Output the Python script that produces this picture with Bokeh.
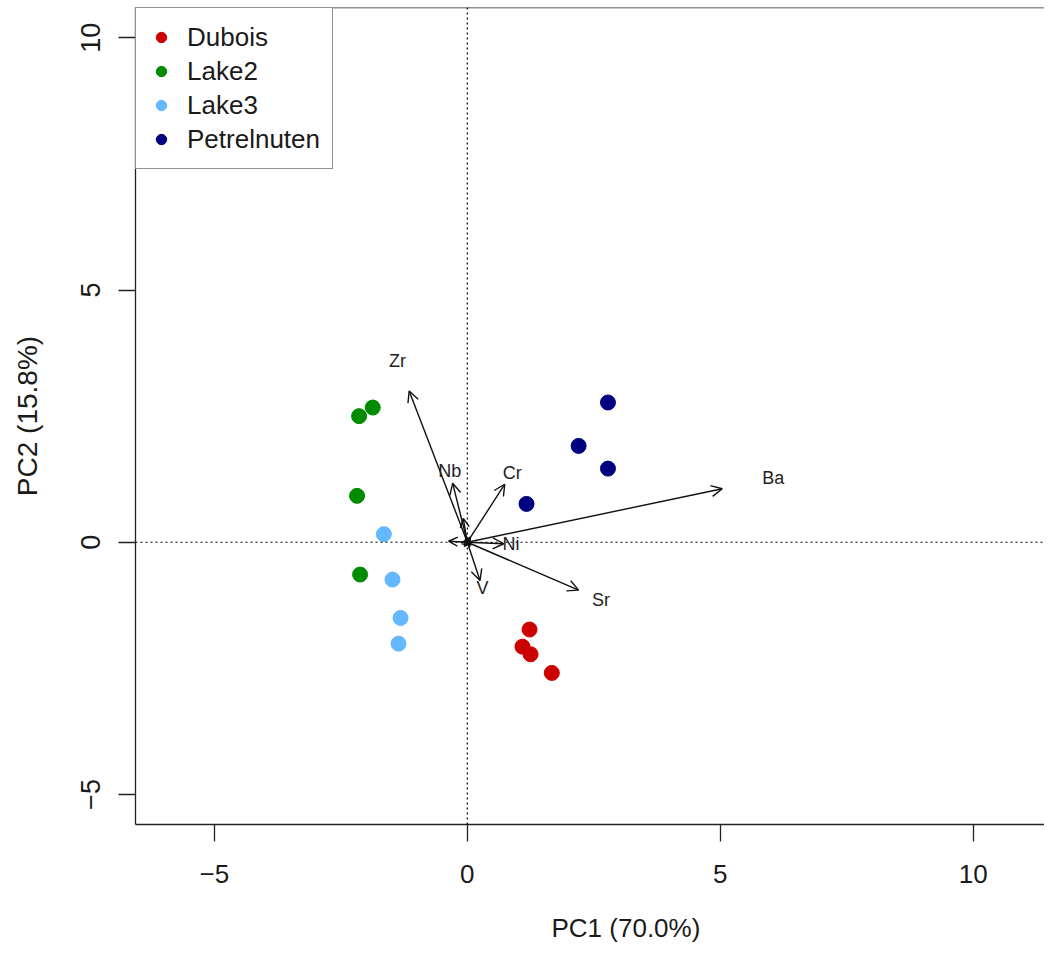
from bokeh.plotting import figure
from bokeh.models import (Span, Arrow, OpenHead, ColumnDataSource, FixedTicker,
                          Title, LabelSet)
from bokeh.embed import file_html
from bokeh.resources import INLINE
from bokeh.core.properties import value

# ---------------- data ----------------
groups = ["Dubois", "Lake2", "Lake3", "Petrelnuten"]
group_colors = ["#CD0000", "#008B00", "#63B8FF", "#000080"]

dubois_pc1 = [1.23, 1.09, 1.25, 1.67]
dubois_pc2 = [-1.73, -2.07, -2.22, -2.59]
lake2_pc1 = [-1.87, -2.14, -2.18, -2.12]
lake2_pc2 = [2.67, 2.50, 0.92, -0.64]
lake3_pc1 = [-1.65, -1.48, -1.32, -1.36]
lake3_pc2 = [0.16, -0.74, -1.50, -2.01]
petrel_pc1 = [2.78, 2.20, 2.78, 1.17]
petrel_pc2 = [2.77, 1.91, 1.46, 0.76]

variables = ["Zr", "Nb", "Cr", "Ba", "Ni", "Sr", "V"]
load_pc1 = [-1.15, -0.29, 0.74, 5.04, 0.72, 2.20, 0.25]
load_pc2 = [3.00, 1.17, 1.15, 1.06, -0.03, -0.95, -0.76]
# very short loading vectors clustered at the origin
minor_pc1 = [-0.37, -0.08, 0.06, -0.06, 0.08]
minor_pc2 = [0.02, 0.47, 0.10, -0.08, -0.05]

label_scale = 1.2

x_ticks = [-5, 0, 5, 10]
y_ticks = [-5, 0, 5, 10]
x_title = "PC1 (70.0%)"
y_title = "PC2 (15.8%)"

FONT = "Liberation Sans"
X_END = 11.41
Y_END = 10.60

# ---------------- figure ----------------
p = figure(frame_width=909, frame_height=817,
           x_range=(-6.56, X_END), y_range=(-5.595, Y_END),
           min_border_left=135, min_border_top=7, min_border_bottom=131,
           min_border_right=0,
           output_backend="svg", toolbar_location=None,
           background_fill_color="white", border_fill_color="white")
p.grid.visible = False
p.outline_line_color = None

for ax, ticks in ((p.xaxis, x_ticks), (p.yaxis, y_ticks)):
    ax.ticker = FixedTicker(ticks=ticks)
    ax.minor_tick_line_color = None
    ax.major_tick_in = 0
    ax.major_tick_out = 17
    ax.major_tick_line_width = 1.3
    ax.major_tick_line_color = "#222222"
    ax.axis_line_width = 1.3
    ax.axis_line_color = "#222222"
    ax.major_label_text_font = FONT
    ax.major_label_text_color = "#1a1a1a"

p.xaxis.major_label_text_font_size = "26px"
p.xaxis.major_label_standoff = 23
p.yaxis.major_label_text_font_size = "27px"
p.yaxis.major_label_orientation = "vertical"
p.yaxis.major_label_standoff = 18
p.yaxis.axis_label = y_title
p.yaxis.axis_label_text_font = FONT
p.yaxis.axis_label_text_font_size = "28px"
p.yaxis.axis_label_text_font_style = "normal"
p.yaxis.axis_label_text_color = "#1a1a1a"
p.yaxis.axis_label_standoff = 36

# top frame line
p.add_layout(Span(location=Y_END, dimension="width", line_color="#222222",
                  line_width=1.3))

# x axis title (R centres it on a plot region wider than the crop)
p.add_layout(Title(text=x_title, align="left", offset=416, standoff=50,
                   text_font=FONT, text_font_size="26px",
                   text_font_style="normal", text_color="#1a1a1a"), "below")

# dotted reference lines
p.add_layout(Span(location=0, dimension="height", line_color="black",
                  line_dash="2 3", line_width=1.2))
p.add_layout(Span(location=0, dimension="width", line_color="black",
                  line_dash="2 3", line_width=1.2))

# scores
series = [(dubois_pc1, dubois_pc2), (lake2_pc1, lake2_pc2),
          (lake3_pc1, lake3_pc2), (petrel_pc1, petrel_pc2)]
for (xs, ys), g, c in zip(series, groups, group_colors):
    p.scatter(xs, ys, size=15, fill_color=c, line_color=c, legend_label=g)

# loading arrows
arr_src = ColumnDataSource(dict(x0=[0] * len(variables), y0=[0] * len(variables),
                                x1=load_pc1, y1=load_pc2))
p.add_layout(Arrow(end=OpenHead(size=11, line_width=1.4, line_color="#111111"),
                   source=arr_src, x_start="x0", y_start="y0",
                   x_end="x1", y_end="y1", line_width=1.4, line_color="#111111"))
minor_src = ColumnDataSource(dict(x0=[0] * len(minor_pc1), y0=[0] * len(minor_pc1),
                                  x1=minor_pc1, y1=minor_pc2))
p.add_layout(Arrow(end=OpenHead(size=9, line_width=1.4, line_color="#111111"),
                   source=minor_src, x_start="x0", y_start="y0",
                   x_end="x1", y_end="y1", line_width=1.4, line_color="#111111"))

lab_src = ColumnDataSource(dict(x=[v * label_scale for v in load_pc1],
                                y=[v * label_scale for v in load_pc2],
                                t=variables))
p.add_layout(LabelSet(x="x", y="y", text="t", source=lab_src,
                      text_align="center", text_baseline="middle",
                      text_font=value(FONT), text_font_size="18px",
                      text_color="#222222"))

# legend
lg = p.legend[0]
lg.location = "top_left"
lg.margin = 0
lg.padding = 12
lg.spacing = 0
lg.glyph_width = 26
lg.glyph_height = 34
lg.label_height = 34
lg.label_standoff = 13
lg.label_text_font = FONT
lg.label_text_font_size = "26px"
lg.label_text_color = "#1a1a1a"
lg.border_line_color = "#222222"
lg.border_line_width = 1.3
lg.background_fill_alpha = 1.0

open("out.html", "w").write(file_html(p, INLINE))
